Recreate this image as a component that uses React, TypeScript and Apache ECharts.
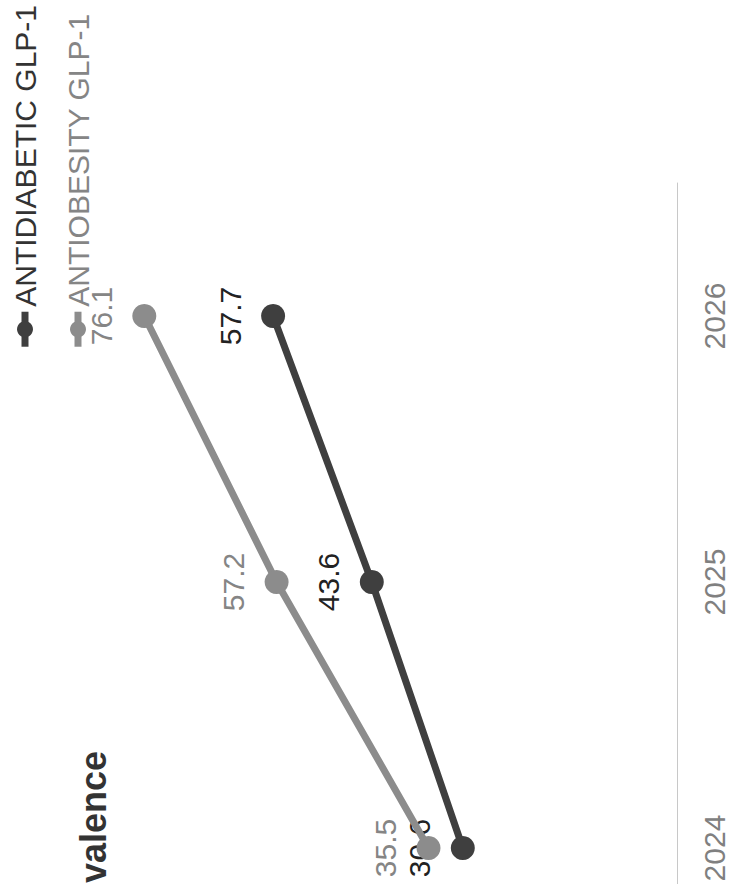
import React, { useEffect, useRef } from "react";
import * as echarts from "echarts";

const years = ["2024", "2025", "2026"];
const antidiabetic = [30.6, 43.6, 57.7];
const antiobesity = [35.5, 57.2, 76.1];
const seriesNames = ["ANTIDIABETIC GLP-1", "ANTIOBESITY GLP-1"];
const titleText = "valence";

const FONT = "'Liberation Sans', Arial, Helvetica, sans-serif";
const CHART_W = 981;
const CHART_H = 731;

export default function App() {
  const ref = useRef<HTMLDivElement>(null);
  useEffect(() => {
    if (!ref.current) return;
    const chart = echarts.init(ref.current, null, { renderer: "svg" });
    chart.setOption({
      animation: false,
      backgroundColor: "#ffffff",
      textStyle: { fontFamily: FONT },
      title: {
        text: titleText,
        left: 93,
        top: 70,
        textStyle: { fontSize: 36, fontWeight: "bold", color: "#333333", fontFamily: FONT },
      },
      legend: {
        orient: "vertical",
        right: 0,
        top: 5,
        itemWidth: 35,
        itemHeight: 20,
        itemGap: 23,
        data: [
          { name: seriesNames[0], textStyle: { color: "#333333" } },
          { name: seriesNames[1], textStyle: { color: "#858585" } },
        ],
        lineStyle: { width: 7 },
        textStyle: { fontSize: 30, fontFamily: FONT },
      },
      grid: { left: 0, right: 183, top: 47, bottom: 54, containLabel: false },
      xAxis: {
        type: "category",
        data: years,
        boundaryGap: true,
        axisLine: { show: true, lineStyle: { color: "#c8c8c8", width: 1 } },
        axisTick: { show: false },
        axisLabel: { fontSize: 30, color: "#808080", margin: 22, fontFamily: FONT },
        splitLine: { show: false },
      },
      yAxis: {
        type: "value",
        min: 0,
        max: 90,
        show: false,
        splitLine: { show: false },
      },
      series: [
        {
          name: seriesNames[0],
          type: "line",
          data: antidiabetic,
          symbol: "circle",
          symbolSize: 24,
          lineStyle: { width: 7, color: "#3f3f3f" },
          itemStyle: { color: "#3f3f3f" },
          label: {
            show: true,
            position: "top",
            distance: 16,
            fontSize: 30,
            color: "#222222",
            fontFamily: FONT,
            formatter: (p: any) => p.value.toFixed(1),
          },
          z: 2,
        },
        {
          name: seriesNames[1],
          type: "line",
          data: antiobesity,
          symbol: "circle",
          symbolSize: 24,
          lineStyle: { width: 7, color: "#8c8c8c" },
          itemStyle: { color: "#8c8c8c" },
          label: {
            show: true,
            position: "top",
            distance: 16,
            fontSize: 30,
            color: "#858585",
            fontFamily: FONT,
            formatter: (p: any) => p.value.toFixed(1),
          },
          z: 3,
        },
      ],
    });
    return () => chart.dispose();
  }, []);

  return (
    <div
      style={{
        position: "fixed",
        left: 0,
        top: 0,
        width: 731,
        height: 884,
        overflow: "hidden",
        background: "#ffffff",
      }}
    >
      <div
        ref={ref}
        style={{
          position: "absolute",
          left: 0,
          top: 0,
          width: CHART_W,
          height: CHART_H,
          transformOrigin: "0 0",
          transform: `rotate(-90deg) translateX(-${CHART_W}px)`,
        }}
      />
    </div>
  );
}
